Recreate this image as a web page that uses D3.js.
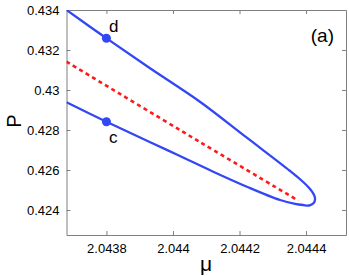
<!DOCTYPE html>
<html>
<head>
	<title>Chart</title>
	<script src="https://d3js.org/d3.v7.min.js"></script>
	<style>
	*{ margin:0; padding:0; }
	body { background:#fff; }
	text { font-family: "Liberation Sans", Arial, sans-serif; fill:#000; }
</style>
</head>
<body>
<svg id="chart" width="349" height="276"></svg>
<script>
	// solid branch, left -> tip -> back left
	var stableMu = [2.04368, 2.04380, 2.04393, 2.044081, 2.044222, 2.044352, 2.044388, 2.044412, 2.044424, 2.044427, 2.044423, 2.044409, 2.044391,
		2.044367, 2.044322, 2.044222, 2.044121, 2.044021, 2.04393, 2.04380, 2.04368];
	var stableP = [0.43400, 0.432585, 0.4311, 0.429415, 0.427615, 0.42595, 0.42545, 0.42505, 0.42475, 0.42455, 0.42435, 0.424225, 0.42425,
		0.42431, 0.4245, 0.425165, 0.425915, 0.4267, 0.4274, 0.428415, 0.429385];
	// dashed branch
	var unstableMu = [2.04368, 2.044081, 2.044377];
	var unstableP = [0.431415, 0.4274, 0.424465];
	// labelled points
	var ptNames = ["d", "c"];
	var ptMu = [2.0438, 2.0438];
	var ptP = [0.43259, 0.428415];

	var xTicks = [2.0438, 2.044, 2.0442, 2.0444];
	var yTicks = [0.424, 0.426, 0.428, 0.43, 0.432, 0.434];

	var L = 66.5, R = 346, T = 10, B = 235;
	var svg = d3.select("#chart");

	var x = d3.scaleLinear().domain([2.04368, 2.04452]).range([L, R]);
	var y = d3.scaleLinear().domain([0.42275, 0.434]).range([B, T]);

	svg.append("clipPath").attr("id", "clip")
		.append("rect").attr("x", L).attr("y", T).attr("width", R - L).attr("height", B - T);

	var axisCol = "#7f7f7f";
	var fmt = function(d){ return String(+d.toFixed(4)); };

	// axes with inward ticks on all sides
	var gx = svg.append("g").attr("transform", "translate(0," + B + ")")
		.call(d3.axisBottom(x).tickValues(xTicks).tickSizeInner(-4).tickSizeOuter(0).tickPadding(9).tickFormat(fmt));
	var gxt = svg.append("g").attr("transform", "translate(0," + T + ")")
		.call(d3.axisTop(x).tickValues(xTicks).tickSizeInner(-4).tickSizeOuter(0).tickFormat(""));
	var gy = svg.append("g").attr("transform", "translate(" + L + ",0)")
		.call(d3.axisLeft(y).tickValues(yTicks).tickSizeInner(-4).tickSizeOuter(0).tickPadding(7).tickFormat(fmt));
	var gyr = svg.append("g").attr("transform", "translate(" + R + ",0)")
		.call(d3.axisRight(y).tickValues(yTicks).tickSizeInner(-4).tickSizeOuter(0).tickFormat(""));

	[gx, gxt, gy, gyr].forEach(function(g){
		g.selectAll("path, line").attr("stroke", axisCol).attr("stroke-width", 1);
		g.selectAll("text").style("font-size", "13px").style("font-family", "Liberation Sans, Arial, sans-serif").attr("fill", "#000");
	});

	var line = d3.line().x(function(d){ return x(d[0]); }).y(function(d){ return y(d[1]); })
		.curve(d3.curveCatmullRom.alpha(0.5));

	var plot = svg.append("g").attr("clip-path", "url(#clip)");

	plot.append("path")
		.datum(unstableMu.map(function(m, i){ return [m, unstableP[i]]; }))
		.attr("d", line)
		.attr("fill", "none").attr("stroke", "#ff1a1a").attr("stroke-width", 2.6)
		.attr("stroke-dasharray", "4,3.5");

	plot.append("path")
		.datum(stableMu.map(function(m, i){ return [m, stableP[i]]; }))
		.attr("d", line)
		.attr("fill", "none").attr("stroke", "#3347f5").attr("stroke-width", 2.3);

	svg.selectAll("circle.pt")
		.data(ptNames).enter().append("circle")
		.attr("class", "pt")
		.attr("cx", function(d, i){ return x(ptMu[i]); })
		.attr("cy", function(d, i){ return y(ptP[i]); })
		.attr("r", 4.5).attr("fill", "#3347f5");

	svg.selectAll("text.pl")
		.data(ptNames).enter().append("text")
		.attr("class", "pl")
		.attr("x", function(d, i){ return x(ptMu[i]) + 2.5; })
		.attr("y", function(d, i){ return y(ptP[i]) + (i === 0 ? -6 : 21); })
		.style("font-size", "17px")
		.text(function(d){ return d; });

	svg.append("text").attr("x", 334).attr("y", 42).attr("text-anchor", "end")
		.style("font-size", "19px").text("(a)");

	svg.append("text").attr("x", 206).attr("y", 271).attr("text-anchor", "middle")
		.style("font-size", "21px").text("μ");

	svg.append("text").attr("transform", "translate(21,121) rotate(-90)").attr("text-anchor", "middle")
		.style("font-size", "20px").text("P");
</script>
</body>
</html>
